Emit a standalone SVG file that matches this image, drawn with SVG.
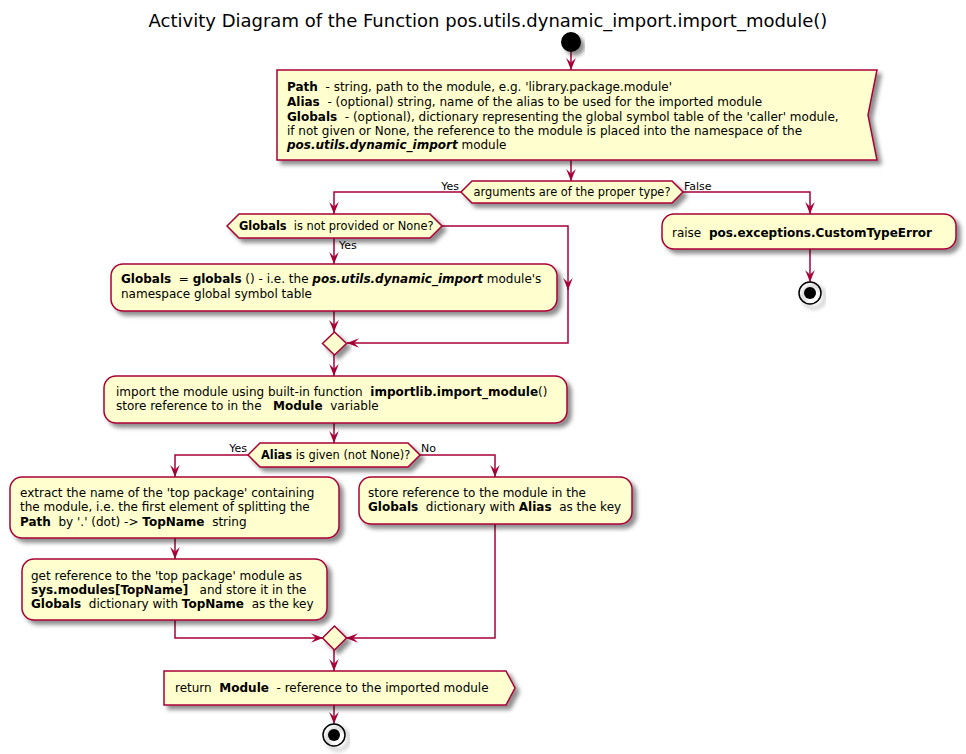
<svg xmlns="http://www.w3.org/2000/svg" width="966" height="754" viewBox="0 0 966 754">
<defs>
<filter id="sh" x="-10%" y="-10%" width="130%" height="150%">
<feGaussianBlur in="SourceAlpha" stdDeviation="2"/>
<feColorMatrix type="matrix" values="0 0 0 0 0  0 0 0 0 0  0 0 0 0 0  0 0 0 0.45 0"/>
<feOffset dx="4" dy="4" result="b"/>
<feMerge><feMergeNode in="b"/><feMergeNode in="SourceGraphic"/></feMerge>
</filter>
<marker id="ar" markerUnits="userSpaceOnUse" markerWidth="12" markerHeight="12" viewBox="0 0 10 8" refX="10" refY="4" orient="auto">
<path d="M0,0 L10,4 L0,8 L4,4 Z" fill="#A80036"/>
</marker>
</defs>
<style>
text{font-family:"DejaVu Sans","Liberation Sans",sans-serif;fill:#000;white-space:pre}
.t{font-size:12px}
.s{font-size:11px}
.d{font-size:11.4px}
.b{font-weight:bold}
.bi{font-weight:bold;font-style:italic}
.n{fill:#FEFECE;stroke:#A80036;stroke-width:1.5;filter:url(#sh)}
.c path{fill:none;stroke:#A80036;stroke-width:1.5}
</style>
<rect width="966" height="754" fill="#fff"/>
<text x="488" y="27" text-anchor="middle" style="font-size:18px">Activity Diagram of the Function pos.utils.dynamic_import.import_module()</text>

<g id="connectors" class="c">
<path d="M571,52 V70" marker-end="url(#ar)"/>
<path d="M571,160 V181" marker-end="url(#ar)"/>
<path d="M461,192 H334 V214" marker-end="url(#ar)"/>
<path d="M683,192 H810 V214" marker-end="url(#ar)"/>
<path d="M810,249 V282" marker-end="url(#ar)"/>
<path d="M334,238 V264" marker-end="url(#ar)"/>
<path d="M442,226 H568 V290" marker-end="url(#ar)"/>
<path d="M568,288 V343 H347" marker-end="url(#ar)"/>
<path d="M334,311 V332" marker-end="url(#ar)"/>
<path d="M334,355 V376" marker-end="url(#ar)"/>
<path d="M334,423 V443" marker-end="url(#ar)"/>
<path d="M248,455 H175 V477" marker-end="url(#ar)"/>
<path d="M420,455 H495 V477" marker-end="url(#ar)"/>
<path d="M175,538 V559" marker-end="url(#ar)"/>
<path d="M175,620 V638 H323" marker-end="url(#ar)"/>
<path d="M495,524 V638 H346" marker-end="url(#ar)"/>
<path d="M334,650 V671" marker-end="url(#ar)"/>
<path d="M334,705 V724" marker-end="url(#ar)"/>
</g>
<g id="edge-labels">
<text class="s" x="459" y="190" text-anchor="end">Yes</text>
<text class="s" x="684" y="190">False</text>
<text class="s" x="339" y="249">Yes</text>
<text class="s" x="247" y="452" text-anchor="end">Yes</text>
<text class="s" x="421" y="452">No</text>
</g>

<g id="start"><circle cx="571" cy="42" r="10" fill="#000" filter="url(#sh)"/></g>

<g id="input">
<polygon class="n" points="277,70 877,70 868,115 877,160 277,160"/>
<text class="t" x="287" y="91"><tspan class="b">Path</tspan>  - string, path to the module, e.g. 'library.package.module'</text>
<text class="t" x="287" y="106"><tspan class="b">Alias</tspan>  - (optional) string, name of the alias to be used for the imported module</text>
<text class="t" x="287" y="121"><tspan class="b">Globals</tspan>  - (optional), dictionary representing the global symbol table of the 'caller' module,</text>
<text class="t" x="287" y="135">if not given or None, the reference to the module is placed into the namespace of the</text>
<text class="t" x="287" y="149"><tspan class="bi">pos.utils.dynamic_import</tspan> module</text>
</g>

<g id="check-types">
<polygon class="n" points="461,192 472,181 672,181 683,192 672,203 472,203"/>
<text class="d" x="572" y="196" text-anchor="middle">arguments are of the proper type?</text>
</g>

<g id="raise">
<rect class="n" x="662" y="214" width="294" height="35" rx="12"/>
<text class="t" x="672" y="237">raise  <tspan class="b">pos.exceptions.CustomTypeError</tspan></text>
</g>
<g id="end1">
<circle cx="810" cy="293" r="11" fill="none" stroke="#000" stroke-width="1.5" filter="url(#sh)"/>
<circle cx="810" cy="293" r="6" fill="#000"/>
</g>

<g id="check-globals">
<polygon class="n" points="227,226 239,214 430,214 442,226 430,238 239,238"/>
<text class="d" x="239" y="230"><tspan class="b">Globals</tspan>  is not provided or None?</text>
</g>

<g id="set-globals">
<rect class="n" x="111" y="264" width="446" height="47" rx="12"/>
<text class="t" x="121" y="283"><tspan class="b">Globals</tspan>  = <tspan class="b">globals</tspan> () - i.e. the <tspan class="bi">pos.utils.dynamic_import</tspan> module's</text>
<text class="t" x="121" y="298">namespace global symbol table</text>
</g>

<g id="merge1">
<polygon class="n" points="334.5,332 346.5,343.5 334.5,355 322.5,343.5"/>
</g>

<g id="import">
<rect class="n" x="104" y="376" width="463" height="47" rx="12"/>
<text class="t" x="116" y="396">import the module using built-in function  <tspan class="b">importlib.import_module</tspan>()</text>
<text class="t" x="116" y="410">store reference to in the   <tspan class="b">Module</tspan>  variable</text>
</g>

<g id="check-alias">
<polygon class="n" points="248,455 260,443 408,443 420,455 408,467 260,467"/>
<text class="d" x="261" y="459"><tspan class="b">Alias</tspan> is given (not None)?</text>
</g>

<g id="extract">
<rect class="n" x="10" y="477" width="329" height="61" rx="12"/>
<text class="t" x="20" y="497">extract the name of the 'top package' containing</text>
<text class="t" x="20" y="511">the module, i.e. the first element of splitting the</text>
<text class="t" x="20" y="526"><tspan class="b">Path</tspan>  by '.' (dot) -&gt; <tspan class="b">TopName</tspan>  string</text>
</g>

<g id="get-ref">
<rect class="n" x="22" y="559" width="305" height="61" rx="12"/>
<text class="t" x="31" y="580">get reference to the 'top package' module as</text>
<text class="t" x="31" y="594"><tspan class="b">sys.modules[TopName]</tspan>   and store it in the</text>
<text class="t" x="31" y="608"><tspan class="b">Globals</tspan>  dictionary with <tspan class="b">TopName</tspan>  as the key</text>
</g>

<g id="store-alias">
<rect class="n" x="359" y="477" width="273" height="47" rx="12"/>
<text class="t" x="368" y="497">store reference to the module in the</text>
<text class="t" x="368" y="511"><tspan class="b">Globals</tspan>  dictionary with <tspan class="b">Alias</tspan>  as the key</text>
</g>

<g id="merge2">
<polygon class="n" points="334.5,626 346.5,638 334.5,650 322.5,638"/>
</g>

<g id="return">
<polygon class="n" points="164,671 506,671 515,688 506,705 164,705"/>
<text class="t" x="175" y="692">return  <tspan class="b">Module</tspan>  - reference to the imported module</text>
</g>

<g id="end2">
<circle cx="334" cy="735" r="11" fill="none" stroke="#000" stroke-width="1.5" filter="url(#sh)"/>
<circle cx="334" cy="735" r="6" fill="#000"/>
</g>
</svg>
